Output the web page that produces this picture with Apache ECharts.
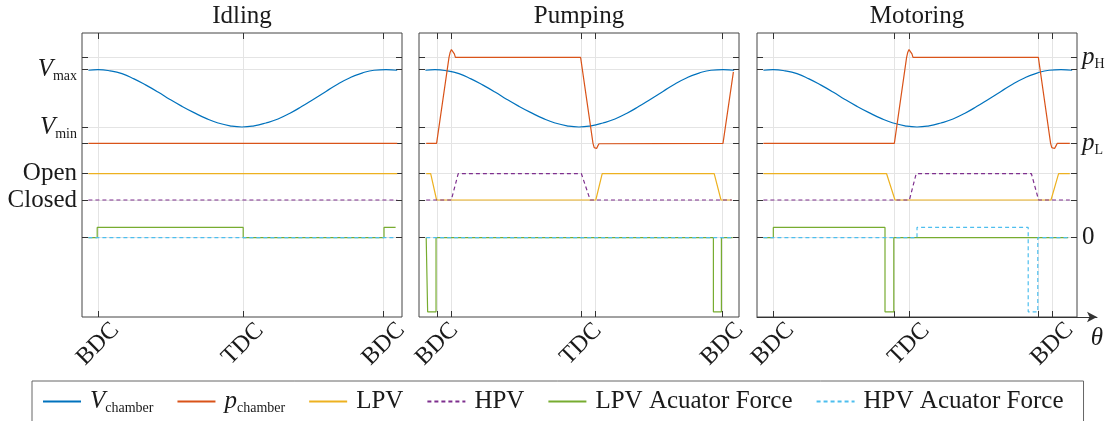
<!DOCTYPE html>
<html><head><meta charset="utf-8">
<script src="https://cdn.jsdelivr.net/npm/echarts@6/dist/echarts.min.js"></script>
<style>html,body{margin:0;padding:0;background:#fff}#chart{width:1113px;height:421px}</style>
</head><body><div id="chart"></div>
<script>
// ---------- data (crank angle theta in degrees) ----------
const panelTitles = ['Idling', 'Pumping', 'Motoring'];
const seriesNames = ['V_chamber', 'p_chamber', 'LPV', 'HPV', 'LPV Acuator Force', 'HPV Acuator Force'];

// chamber volume, normalised: 0 = Vmin, 1 = Vmax (same in all panels)
const volTheta = [-12, 0, 15, 30, 45, 60, 75, 90, 105, 120, 135, 150, 165, 180, 195, 210, 225, 240, 255, 270, 285, 300, 315, 330, 345, 360, 374];
const volValue = [0.99, 1.0, 0.98, 0.93, 0.84, 0.73, 0.61, 0.48, 0.36, 0.25, 0.15, 0.07, 0.02, 0.0, 0.02, 0.07, 0.14, 0.24, 0.36, 0.49, 0.62, 0.75, 0.86, 0.94, 0.99, 1.0, 0.99];

// Idling
const idlePresTheta = [-12, 374];            const idlePres = [0, 0];
const idleLpvTheta = [-12, 374];             const idleLpv = [1, 1];
const idleHpvTheta = [-12, 374];             const idleHpv = [0, 0];
const idleLpvForceTheta = [-12, -1, -1, 181.5, 181.5, 357.5, 357.5, 372];
const idleLpvForce = [0, 0, 1, 1, 0, 0, 1, 1];
const idleHpvForceTheta = [-12, 372];        const idleHpvForce = [0, 0];

// Pumping
const pumpPresTheta = [-11, 2, 17.5, 19, 20.5, 21.7, 23, 24.2, 25.5, 26.5, 27.5, 182, 197.5, 199, 200.5, 202, 203.5, 205, 206, 360, 373];
const pumpPres = [0, 0, 1.0, 1.06, 1.09, 1.097, 1.08, 1.04, 1.0, 0.99, 1.0, 1.0, 0.0, -0.05, -0.07, -0.06, -0.03, -0.005, 0, 0, 0.83];
const pumpLpvTheta = [-11, -5.4, 2, 201, 209, 349, 357.5, 371];
const pumpLpv = [1, 1, 0, 0, 1, 1, 0, 0];
const pumpHpvTheta = [-11, 20.4, 29, 183, 194, 371];
const pumpHpv = [0, 0, 1, 1, 0, 0];
const pumpLpvForceTheta = [-11, -9.2, -9.2, 1.3, 1.3, 348, 348, 358, 358, 372];
const pumpLpvForce = [0, 0, -7.2, -7.2, 0, 0, -7.2, -7.2, 0, 0];
const pumpHpvForceTheta = [-11, 372];        const pumpHpvForce = [0, 0];

// Motoring
const motorPresTheta = [-12, 151.7, 167, 168.5, 170, 171.3, 172.5, 173.7, 175, 176.2, 177.5, 331.7, 347, 348.5, 350.4, 352, 353.7, 355.4, 371];
const motorPres = [0, 0, 1.0, 1.06, 1.09, 1.093, 1.08, 1.04, 1.0, 0.99, 1.0, 1.0, 0, -0.05, -0.07, -0.06, -0.03, 0, 0];
const motorLpvTheta = [-12, 142, 152.5, 347.5, 357, 371];
const motorLpv = [1, 1, 0, 0, 1, 1];
const motorHpvTheta = [-12, 170.5, 179, 323, 332, 371];
const motorHpv = [0, 0, 1, 1, 0, 0];
const motorLpvForceTheta = [-12, 0.4, 0.4, 140, 140, 151, 151, 369];
const motorLpvForce = [0, 0, 1, 1, -7.2, -7.2, 0, 0];
const motorHpvForceTheta = [-12, 180, 180, 319, 319, 331, 331, 371];
const motorHpvForce = [0, 0, 1, 1, -7.2, -7.2, 0, 0];

// x ticks per panel
const idleTicks = [0, 181, 357];                 const idleTickLabels = ['BDC', 'TDC', 'BDC'];
const pumpTicks = [2.5, 20, 182.5, 200, 359];    const pumpTickLabels = ['BDC', '', 'TDC', '', 'BDC'];
const motorTicks = [0, 151, 170, 331, 349];      const motorTickLabels = ['BDC', '', 'TDC', '', 'BDC'];

// y tick levels
const volTicks = [0, 1];     const volTickLabels = ['{i|V}{s|min}', '{i|V}{s|max}'];
const presTicks = [0, 1];    const presTickLabels = ['{i|p}{s|L}', '{i|p}{s|H}'];
const valveTicks = [0, 1];   const valveTickLabels = ['Closed', 'Open'];
const forceTicks = [0];      const forceTickLabels = ['0'];

// ---------- build ----------
const zip = (xs, ys) => xs.map((x, i) => [x, ys[i]]);
const panels = [
  { ticks: idleTicks, labels: idleTickLabels,
    data: [zip(volTheta, volValue), zip(idlePresTheta, idlePres), zip(idleLpvTheta, idleLpv), zip(idleHpvTheta, idleHpv), zip(idleLpvForceTheta, idleLpvForce), zip(idleHpvForceTheta, idleHpvForce)] },
  { ticks: pumpTicks, labels: pumpTickLabels,
    data: [zip(volTheta, volValue), zip(pumpPresTheta, pumpPres), zip(pumpLpvTheta, pumpLpv), zip(pumpHpvTheta, pumpHpv), zip(pumpLpvForceTheta, pumpLpvForce), zip(pumpHpvForceTheta, pumpHpvForce)] },
  { ticks: motorTicks, labels: motorTickLabels,
    data: [zip(volTheta, volValue), zip(motorPresTheta, motorPres), zip(motorLpvTheta, motorLpv), zip(motorHpvTheta, motorHpv), zip(motorLpvForceTheta, motorLpvForce), zip(motorHpvForceTheta, motorHpvForce)] }
];

const FONT = 'Liberation Serif';
const TXT = '#1a1a1a';
const GRID_LEFT = [82, 419, 757], GRID_TOP = 33, GRID_W = 320, GRID_H = 284;
const colors = ['#0072BD', '#D95319', '#EDB120', '#7E2F8E', '#77AC30', '#4DBEEE'];
const dashed = [false, false, false, true, false, true];
const rich = {
  i: { fontFamily: FONT, fontStyle: 'italic', fontSize: 25, lineHeight: 28, color: TXT },
  s: { fontFamily: FONT, fontSize: 14, lineHeight: 14, verticalAlign: 'bottom', color: TXT },
  t: { fontFamily: FONT, fontSize: 25, lineHeight: 28, color: TXT }
};
// section axis ranges (layout of the stacked sub-plots)
const sections = [
  { range: [-3.316, 1.640], ticks: volTicks, labels: volTickLabels, labelSide: 'left', labelPanel: 0 },
  { range: [-2.020, 1.283], ticks: presTicks, labels: presTickLabels, labelSide: 'right', labelPanel: 2 },
  { range: [-4.449, 6.350], ticks: valveTicks, labels: valveTickLabels, labelSide: 'left', labelPanel: 0 },
  { range: [-7.70, 19.87], ticks: forceTicks, labels: forceTickLabels, labelSide: 'right', labelPanel: 2 }
];
const seriesSection = [0, 1, 2, 2, 3, 3];

const grid = [], xAxis = [], yAxis = [], series = [], title = [];
const tickStyle = { show: true, inside: true, length: 6, lineStyle: { color: '#333', width: 1 } };
const splitStyle = { show: true, lineStyle: { color: '#e4e4e4', width: 1 } };
const noLine = { show: false, onZero: false };

panels.forEach((pn, p) => {
  grid.push({ left: GRID_LEFT[p], top: GRID_TOP, width: GRID_W, height: GRID_H, show: true,
    borderColor: '#444', borderWidth: 1, outerBoundsMode: 'none', containLabel: false });
  title.push({ text: panelTitles[p], left: GRID_LEFT[p] + GRID_W / 2, top: 4, textAlign: 'center', padding: 0,
    textStyle: { fontFamily: FONT, fontWeight: 'normal', fontSize: 25, color: TXT } });
  const labeled = pn.ticks.filter((t, i) => pn.labels[i] !== '');
  xAxis.push({ type: 'value', gridIndex: p, position: 'bottom', min: -20, max: 380,
    axisLine: noLine,
    axisTick: Object.assign({ customValues: pn.ticks }, tickStyle),
    splitLine: splitStyle,
    axisLabel: { show: true, customValues: labeled, rotate: 45, align: 'center', verticalAlign: 'middle', margin: 27,
      fontFamily: FONT, fontSize: 24, color: TXT,
      formatter: v => pn.labels[pn.ticks.indexOf(v)] } });
  xAxis.push({ type: 'value', gridIndex: p, position: 'top', min: -20, max: 380,
    axisLine: noLine, axisTick: Object.assign({ customValues: pn.ticks }, tickStyle),
    splitLine: { show: false }, axisLabel: { show: false } });
  sections.forEach((sc, s) => {
    ['left', 'right'].forEach(side => {
      const showLab = side === sc.labelSide && p === sc.labelPanel;
      yAxis.push({ type: 'value', gridIndex: p, position: side, min: sc.range[0], max: sc.range[1],
        axisLine: noLine,
        axisTick: Object.assign({ customValues: sc.ticks }, tickStyle),
        splitLine: side === 'left' ? splitStyle : { show: false },
        axisLabel: showLab ? { show: true, customValues: sc.ticks, margin: 5, fontFamily: FONT, fontSize: 25, color: TXT,
          rich: rich, formatter: v => sc.labels[sc.ticks.indexOf(v)] } : { show: false } });
    });
  });
  pn.data.forEach((d, k) => {
    series.push({ name: seriesNames[k], type: 'line', xAxisIndex: p * 2, yAxisIndex: p * 8 + seriesSection[k] * 2,
      data: d, smooth: k === 0, symbol: 'none', color: colors[k], z: 2 + k,
      lineStyle: { color: colors[k], width: 1.2, type: dashed[k] ? [4, 3] : 'solid' } });
  });
});
// theta arrow axis on the right panel
grid.push({ left: GRID_LEFT[2], top: GRID_TOP, width: 340, height: GRID_H, show: false, outerBoundsMode: 'none' });
xAxis.push({ type: 'value', gridIndex: 3, min: 0, max: 1, name: 'θ', nameLocation: 'end', nameGap: 0,
  nameTextStyle: { fontFamily: FONT, fontStyle: 'italic', fontSize: 25, color: TXT, align: 'center', verticalAlign: 'top', padding: [9, 0, 0, 0] },
  axisLine: { show: true, onZero: false, symbol: ['none', 'arrow'], symbolSize: [8, 10], lineStyle: { color: '#333', width: 1 } },
  axisTick: { show: false }, axisLabel: { show: false }, splitLine: { show: false } });
yAxis.push({ type: 'value', gridIndex: 3, show: false, min: 0, max: 1, axisLine: { onZero: false } });

const chart = echarts.init(document.getElementById('chart'), null, { renderer: 'canvas' });
chart.setOption({
  animation: false,
  backgroundColor: '#fff',
  title: title,
  grid: grid, xAxis: xAxis, yAxis: yAxis, series: series,
  legend: { data: seriesNames, left: 32, top: 381, orient: 'horizontal', itemWidth: 38, itemHeight: 12, itemGap: 23,
    borderColor: '#666', borderWidth: 1, padding: [8, 20, 14, 10],
    itemStyle: { opacity: 0 },
    textStyle: { fontFamily: FONT, fontSize: 25, color: TXT, padding: [0, 0, 0, 4], rich: rich },
    formatter: n => n === 'V_chamber' ? '{i|V}{s|chamber}' : n === 'p_chamber' ? '{i|p}{s|chamber}' : '{t|' + n + '}' }
});
</script></body></html>
